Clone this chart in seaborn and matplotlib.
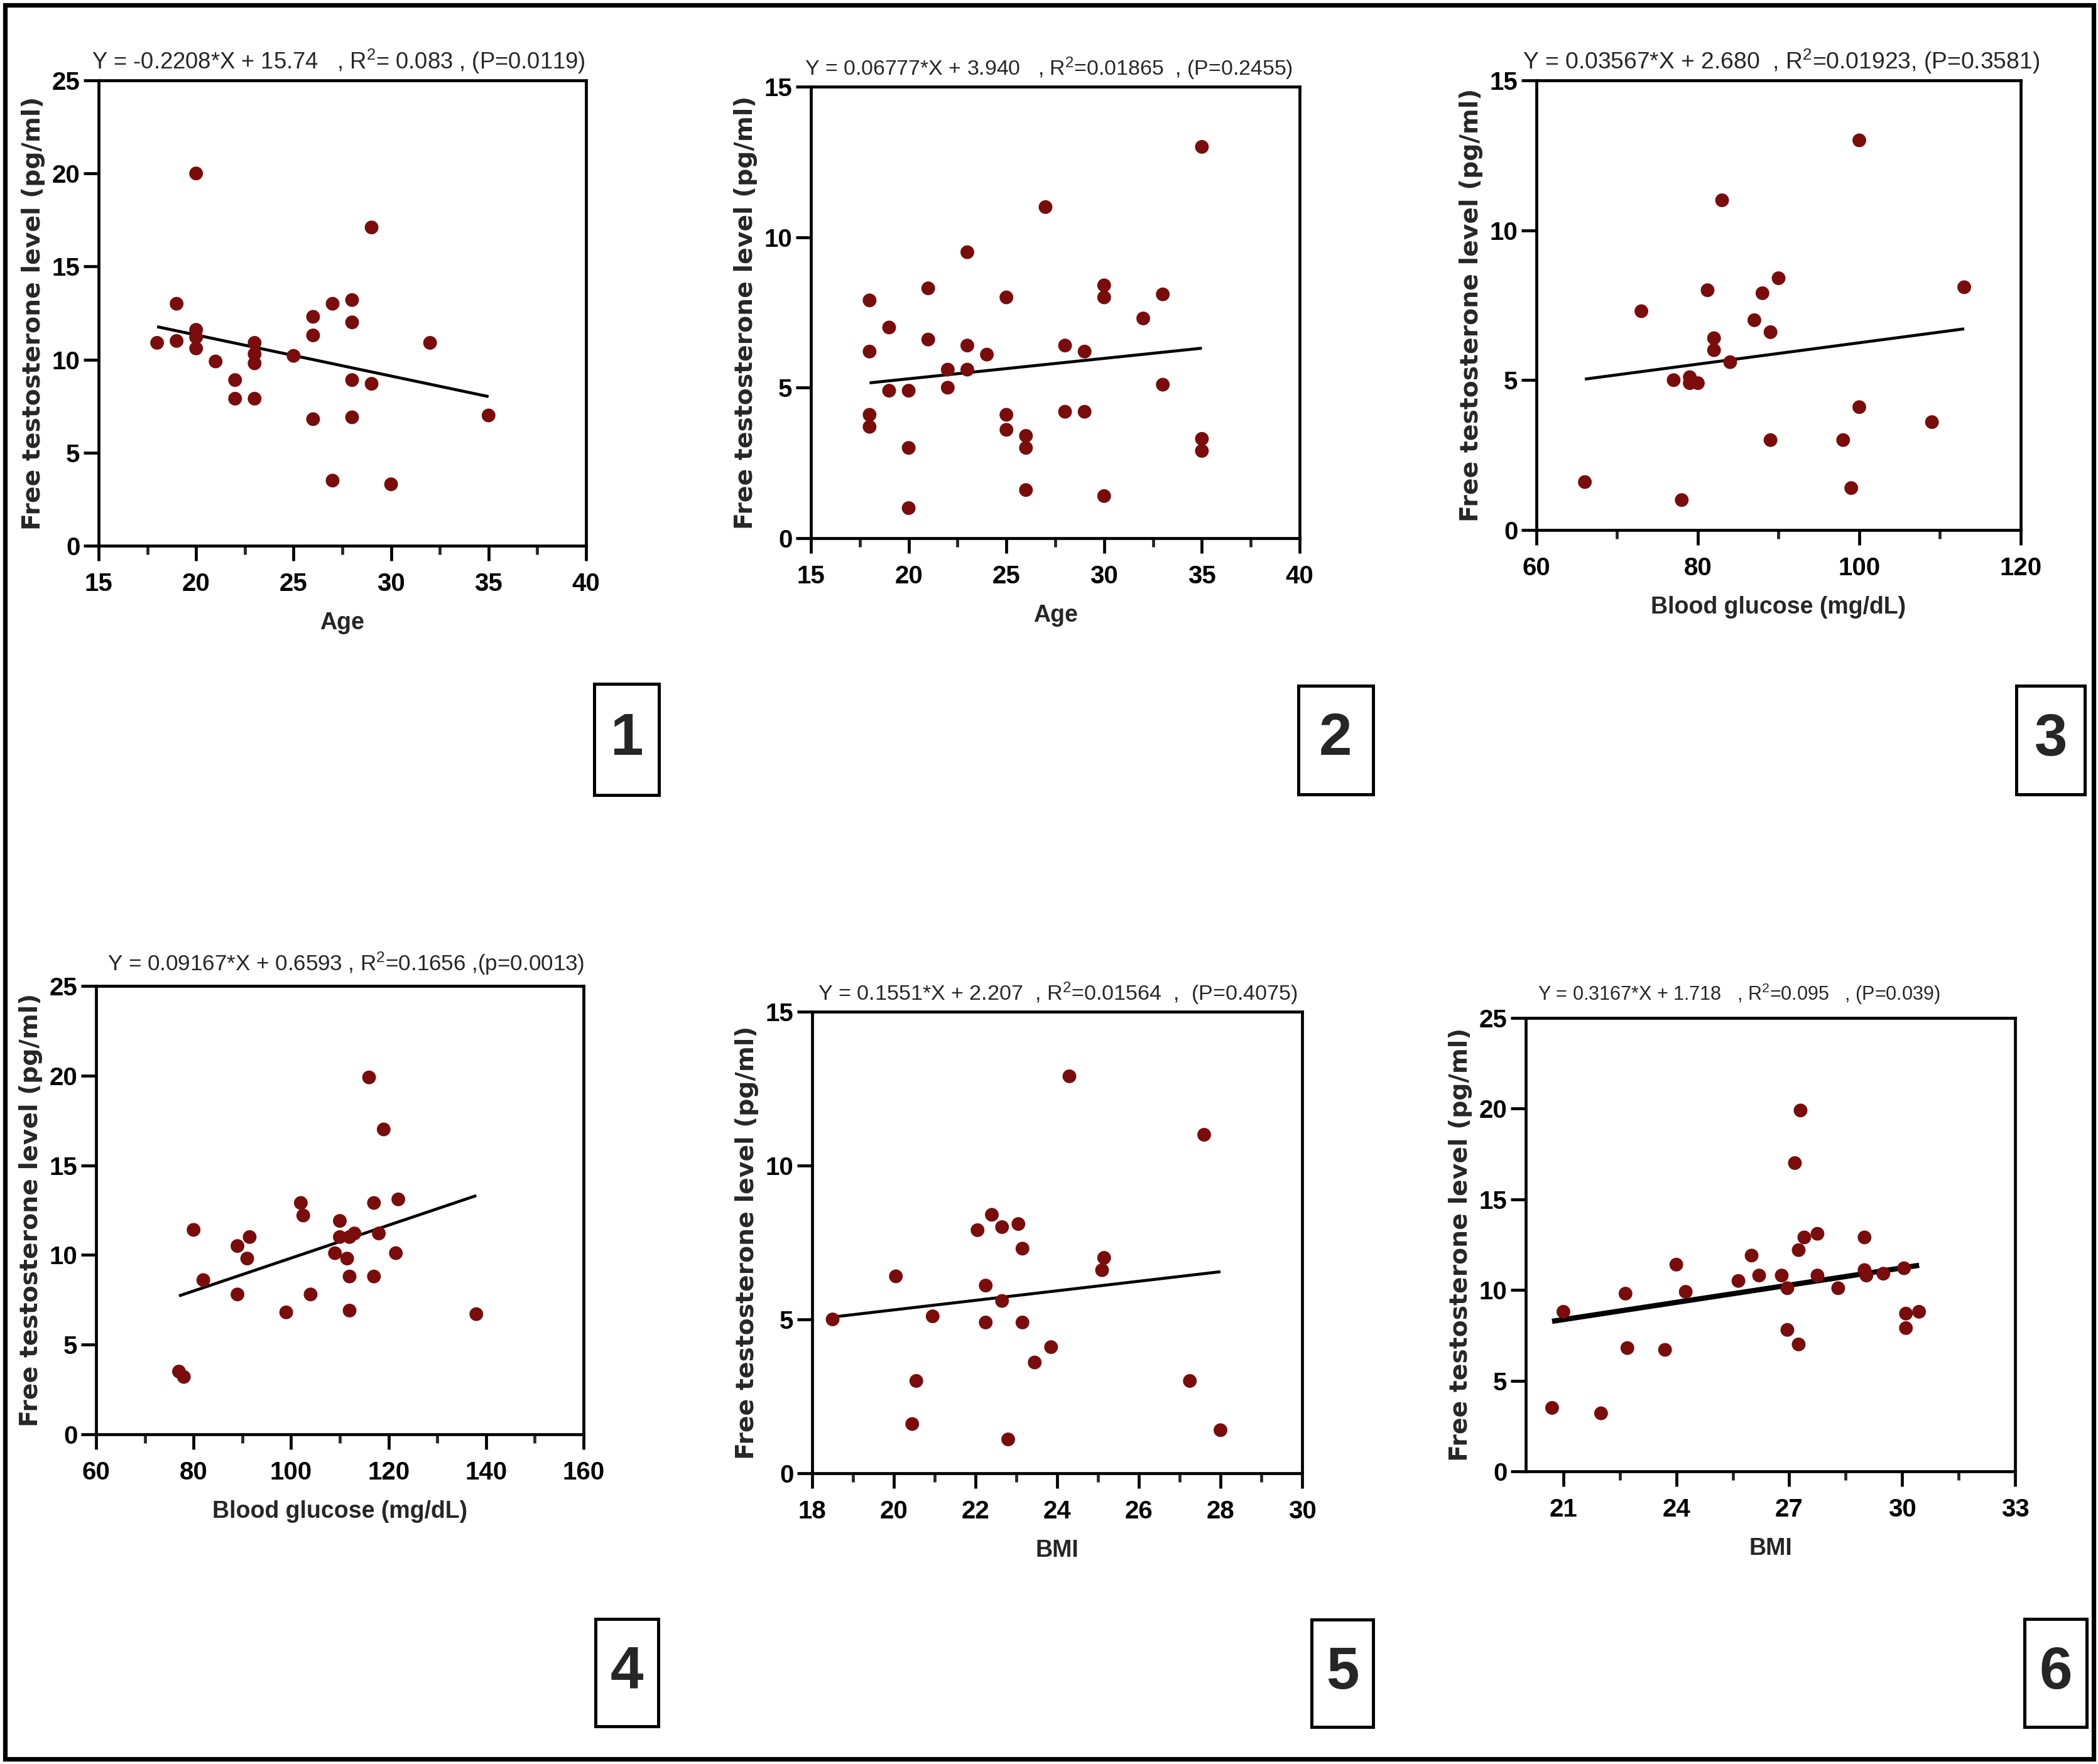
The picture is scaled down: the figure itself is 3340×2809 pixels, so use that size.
import matplotlib
matplotlib.use("Agg")
import numpy as np
import pandas as pd
import matplotlib.pyplot as plt
import seaborn as sns
from matplotlib.ticker import MultipleLocator, FixedLocator
from matplotlib.patches import Rectangle

# ---------------------------------------------------------------------------
# data
# ---------------------------------------------------------------------------
age_1 = [18, 19, 19, 20, 20, 20, 20, 21, 22, 22, 23, 23, 23, 23, 25, 26, 26, 26,
         27, 27, 28, 28, 28, 28, 29, 29, 30, 32, 35]
ft_1 = [10.9, 13.0, 11.0, 20.0, 11.6, 11.2, 10.6, 9.9, 8.9, 7.9, 10.9, 10.3, 9.8, 7.9,
        10.2, 12.3, 11.3, 6.8, 13.0, 3.5, 13.2, 12.0, 8.9, 6.9, 17.1, 8.7, 3.3, 10.9, 7.0]

age_2 = [18, 18, 18, 18, 19, 19, 20, 20, 20, 21, 21, 22, 22, 23, 23, 23, 24, 25, 25, 25,
         26, 26, 26, 27, 28, 28, 29, 29, 30, 30, 30, 32, 33, 33, 35, 35, 35]
ft_2 = [7.9, 6.2, 4.1, 3.7, 7.0, 4.9, 4.9, 3.0, 1.0, 8.3, 6.6, 5.6, 5.0, 9.5, 6.4, 5.6,
        6.1, 8.0, 4.1, 3.6, 3.4, 3.0, 1.6, 11.0, 6.4, 4.2, 6.2, 4.2, 8.4, 8.0, 1.4, 7.3,
        8.1, 5.1, 13.0, 3.3, 2.9]

glu_3 = [66, 73, 77, 78, 79, 79, 80, 81.2, 82, 82, 83, 84, 87, 88, 89, 89, 90, 98, 99,
         100, 100, 109, 113]
ft_3 = [1.6, 7.3, 5.0, 1.0, 5.1, 4.9, 4.9, 8.0, 6.4, 6.0, 11.0, 5.6, 7.0, 7.9, 6.6, 3.0,
        8.4, 3.0, 1.4, 13.0, 4.1, 3.6, 8.1]

glu_4 = [77, 78, 80, 82, 89, 89, 91, 91.5, 99, 102, 102.5, 104, 109, 110, 110, 111.5,
         112, 112, 112, 113, 116, 117, 117, 118, 119, 121.5, 122, 138]
ft_4 = [3.5, 3.2, 11.4, 8.6, 10.5, 7.8, 9.8, 11.0, 6.8, 12.9, 12.2, 7.8, 10.1, 11.9,
        11.0, 9.8, 11.0, 8.8, 6.9, 11.2, 19.9, 8.8, 12.9, 11.2, 17.0, 10.1, 13.1, 6.7]

bmi_5 = [18.5, 20.05, 20.45, 20.55, 20.95, 22.05, 22.25, 22.25, 22.4, 22.65, 22.65, 22.8,
         23.05, 23.15, 23.15, 23.45, 23.85, 24.3, 25.1, 25.15, 27.25, 27.6, 28.0]
ft_5 = [5.0, 6.4, 1.6, 3.0, 5.1, 7.9, 4.9, 6.1, 8.4, 8.0, 5.6, 1.1, 8.1, 7.3, 4.9, 3.6,
        4.1, 12.9, 6.6, 7.0, 3.0, 11.0, 1.4]

bmi_6 = [20.7, 21.0, 22.0, 22.65, 22.7, 23.7, 24.0, 24.25, 25.65, 26.0, 26.2, 26.8, 26.95,
         26.95, 27.15, 27.25, 27.25, 27.3, 27.4, 27.75, 27.75, 28.3, 29.0, 29.0, 29.05,
         29.5, 30.05, 30.1, 30.1, 30.45]
ft_6 = [3.5, 8.8, 3.2, 9.8, 6.8, 6.7, 11.4, 9.9, 10.5, 11.9, 10.8, 10.8, 10.1, 7.8, 17.0,
        12.2, 7.0, 19.9, 12.9, 10.8, 13.1, 10.1, 12.9, 11.1, 10.8, 10.9, 11.2, 8.7, 7.9, 8.8]

# fitted lines (from the equations printed above each panel)
slopes = [-0.2208, 0.06777, 0.03567, 0.09167, 0.1551, 0.3167]
intercepts = [15.74, 3.940, 2.680, 0.6593, 2.207, 1.718]

titles = [
    "Y = -0.2208*X + 15.74   , R$^2$= 0.083 , (P=0.0119)",
    "Y = 0.06777*X + 3.940   , R$^2$=0.01865  , (P=0.2455)",
    "Y = 0.03567*X + 2.680  , R$^2$=0.01923, (P=0.3581)",
    "Y = 0.09167*X + 0.6593 , R$^2$=0.1656 ,(p=0.0013)",
    "Y = 0.1551*X + 2.207  , R$^2$=0.01564  ,  (P=0.4075)",
    "Y = 0.3167*X + 1.718   , R$^2$=0.095   , (P=0.039)",
]
xlabels = ["Age", "Age", "Blood glucose (mg/dL)", "Blood glucose (mg/dL)", "BMI", "BMI"]
ylabel = "Free testosterone level (pg/ml)"
panel_ids = ["1", "2", "3", "4", "5", "6"]

xs_all = [age_1, age_2, glu_3, glu_4, bmi_5, bmi_6]
ys_all = [ft_1, ft_2, ft_3, ft_4, ft_5, ft_6]

# ---------------------------------------------------------------------------
# layout (pixel boxes of the original figure)
# ---------------------------------------------------------------------------
W, H, DPI = 3341, 2809, 200
# left, right, top, bottom of each plot area
boxes = [(157, 933, 128, 869), (1291, 2069, 138, 857), (2446, 3217, 128, 844),
         (153, 929, 1570, 2284), (1293, 2073, 1611, 2346), (2429, 3208, 1621, 2343)]
xlims = [(15, 40), (15, 40), (60, 120), (60, 160), (18, 30), (20, 33)]
ylims = [(0, 25), (0, 15), (0, 15), (0, 25), (0, 15), (0, 25)]
xmajor = [np.arange(15, 41, 5), np.arange(15, 41, 5), np.arange(60, 121, 20),
          np.arange(60, 161, 20), np.arange(18, 31, 2), [21, 24, 27, 30, 33]]
xminor = [np.arange(17.5, 40, 5), np.arange(17.5, 40, 5), np.arange(70, 120, 20),
          np.arange(70, 160, 20), np.arange(19, 30, 2), [22.5, 25.5, 28.5, 31.5]]
title_x = [0.492, 0.486, 0.505, 0.513, 0.501, 0.436]
title_gap = [18, 18, 18, 24, 18, 28]
title_size = [13.1, 12.2, 13.4, 12.6, 12.3, 11.0]
line_w = [1.7, 1.7, 1.7, 1.7, 1.7, 3.0]
# number boxes: center x, center y, width, height
num_boxes = [(998, 1178, 103, 177), (2126, 1178, 119, 173), (3265, 1178, 109, 173),
             (998, 2663, 100, 171), (2137, 2664, 98, 171), (3273, 2664, 99, 172)]

DOT = "#7b0c0c"

sns.set_theme(style="ticks")
plt.rcParams["font.family"] = ["Liberation Sans", "DejaVu Sans"]
plt.rcParams["mathtext.default"] = "regular"
plt.rcParams["axes.linewidth"] = 1.7

fig = plt.figure(figsize=(W / DPI, H / DPI), dpi=DPI)
fig.patch.set_facecolor("white")

for i in range(6):
    l, r, t, b = boxes[i]
    ax = fig.add_axes([l / W, 1 - b / H, (r - l) / W, (b - t) / H])
    ax.set_facecolor("white")
    df = pd.DataFrame({"x": xs_all[i], "y": ys_all[i]})

    # regression line first, dots on top
    x_line = np.array([df["x"].min(), df["x"].max()])
    ax.plot(x_line, slopes[i] * x_line + intercepts[i], color="black",
            lw=line_w[i], solid_capstyle="butt", zorder=2)
    sns.scatterplot(data=df, x="x", y="y", ax=ax, color=DOT, s=62,
                    edgecolor="none", linewidth=0, zorder=3, legend=False)

    ax.set_xlim(*xlims[i])
    ax.set_ylim(*ylims[i])
    ax.xaxis.set_major_locator(FixedLocator(xmajor[i]))
    ax.xaxis.set_minor_locator(FixedLocator(xminor[i]))
    ax.yaxis.set_major_locator(MultipleLocator(5))
    ax.yaxis.set_minor_locator(FixedLocator([]))

    for sp in ax.spines.values():
        sp.set_visible(True)
        sp.set_linewidth(1.7)
        sp.set_color("black")
    ax.tick_params(axis="both", which="major", length=8.6, width=1.7, direction="out",
                   labelsize=14.5, colors="black")
    ax.tick_params(axis="x", which="minor", length=5, width=1.7, direction="out")
    ax.tick_params(axis="x", which="major", pad=6.5)
    ax.tick_params(axis="y", which="major", pad=2)
    ax.tick_params(top=False, right=False, which="both")
    for lbl in ax.get_xticklabels() + ax.get_yticklabels():
        lbl.set_fontweight("bold")

    ax.set_xlabel(xlabels[i], fontsize=13.5, fontweight="bold", labelpad=9)
    ax.set_ylabel(ylabel, fontsize=14.2, fontweight="bold", family="DejaVu Sans", labelpad=4)

    ax.text(title_x[i], 1 + title_gap[i] / (b - t), titles[i], transform=ax.transAxes,
            ha="center", va="baseline", fontsize=title_size[i], fontweight="normal")

# panel number boxes
for (cx, cy, bw, bh), pid in zip(num_boxes, panel_ids):
    fig.patches.append(Rectangle(((cx - bw / 2) / W, 1 - (cy + bh / 2) / H), bw / W, bh / H,
                                 transform=fig.transFigure, fill=False,
                                 edgecolor="black", lw=1.8))
    fig.text(cx / W, 1 - cy / H, pid, ha="center", va="center", fontsize=34,
             fontweight="bold")

# outer frame
fig.patches.append(Rectangle((8 / W, 8 / H), (W - 16) / W, (H - 16) / H,
                             transform=fig.transFigure, fill=False,
                             edgecolor="black", lw=2.6))

fig.savefig("out.png", dpi=DPI, facecolor="white")
